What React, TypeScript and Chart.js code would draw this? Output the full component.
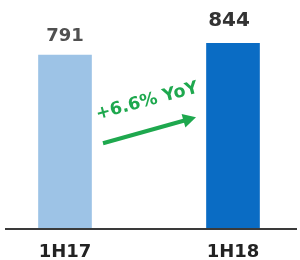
import React, { useEffect, useRef } from "react";
import { Chart, registerables } from "chart.js";

Chart.register(...registerables);

const categories = ["1H17", "1H18"];
const values = [791, 844];
const valueLabels = ["791", "844"];
const changeLabel = "+6.6% YoY";

const barColors = ["#9DC3E6", "#0A6CC4"];
const GREEN = "#1EA84E";
const FONT = "'DejaVu Sans', sans-serif";

const valueLabelPlugin = {
  id: "valueLabels",
  afterDatasetsDraw(chart: any) {
    const ctx = chart.ctx;
    const meta = chart.getDatasetMeta(0);
    const styles = [
      { font: `bold 18px ${FONT}`, color: "#505050", gap: 14 },
      { font: `bold 20px ${FONT}`, color: "#333333", gap: 17 },
    ];
    ctx.save();
    meta.data.forEach((bar: any, i: number) => {
      const s = styles[i];
      ctx.font = s.font;
      ctx.fillStyle = s.color;
      ctx.textAlign = "center";
      ctx.textBaseline = "alphabetic";
      ctx.fillText(valueLabels[i], bar.x - (i === 1 ? 4 : 0), bar.y - s.gap);
    });
    ctx.restore();
  },
};

const annotationPlugin = {
  id: "yoyArrow",
  afterDatasetsDraw(chart: any) {
    const ctx = chart.ctx;
    const xs = chart.scales.x;
    const ys = chart.scales.y;
    const x1 = xs.getPixelForValue(0);
    const x2 = xs.getPixelForValue(1);
    // baseline
    const yb = ys.getPixelForValue(0);
    ctx.save();
    ctx.strokeStyle = "#3a3a3a";
    ctx.lineWidth = 2;
    ctx.beginPath();
    ctx.moveTo(5, yb);
    ctx.lineTo(297, yb);
    ctx.stroke();

    // arrow
    const sx = x1 + 38;
    const sy = ys.getPixelForValue(390);
    const ex = x2 - 37;
    const ey = ys.getPixelForValue(508);
    const ang = Math.atan2(ey - sy, ex - sx);
    const headLen = 13;
    const headW = 7;
    const bx = ex - headLen * Math.cos(ang);
    const by = ey - headLen * Math.sin(ang);
    ctx.strokeStyle = GREEN;
    ctx.fillStyle = GREEN;
    ctx.lineWidth = 4;
    ctx.lineCap = "butt";
    ctx.beginPath();
    ctx.moveTo(sx, sy);
    ctx.lineTo(bx + 1 * Math.cos(ang), by + 1 * Math.sin(ang));
    ctx.stroke();
    ctx.beginPath();
    ctx.moveTo(ex, ey);
    ctx.lineTo(bx - headW * Math.sin(ang), by + headW * Math.cos(ang));
    ctx.lineTo(bx + headW * Math.sin(ang), by - headW * Math.cos(ang));
    ctx.closePath();
    ctx.fill();

    // text
    const tx = (x1 + x2) / 2 - 2;
    const ty = ys.getPixelForValue(580);
    ctx.translate(tx, ty);
    ctx.rotate(-15 * Math.PI / 180);
    ctx.font = `bold 17.5px ${FONT}`;
    ctx.textAlign = "center";
    ctx.textBaseline = "middle";
    ctx.fillText(changeLabel, 0, 0);
    ctx.restore();
  },
};

export default function App() {
  const ref = useRef<HTMLCanvasElement | null>(null);
  useEffect(() => {
    if (!ref.current) return;
    const chart = new Chart(ref.current, {
      type: "bar",
      data: {
        labels: categories,
        datasets: [
          {
            data: values,
            backgroundColor: barColors,
            barThickness: 53,
            clip: false as any,
          },
        ],
      },
      options: {
        animation: false,
        responsive: false,
        layout: { padding: { left: 65, right: 67, top: 9, bottom: -15 } },
        plugins: { legend: { display: false }, tooltip: { enabled: false } },
        scales: {
          x: {
            offset: false,
            grid: { display: false, drawTicks: false },
            border: { display: false },
            ticks: {
              padding: 14,
              color: "#222222",
              font: { family: FONT, size: 18, weight: "bold", lineHeight: 1 },
              autoSkip: false,
              maxRotation: 0,
            },
          },
          y: { display: false, min: 0, max: 1000 },
        },
      },
      plugins: [valueLabelPlugin, annotationPlugin],
    });
    return () => chart.destroy();
  }, []);
  return (
    <div style={{ position: "fixed", left: 0, top: 0, width: 300, height: 260, background: "#fff" }}>
      <canvas ref={ref} width={300} height={260} />
    </div>
  );
}
